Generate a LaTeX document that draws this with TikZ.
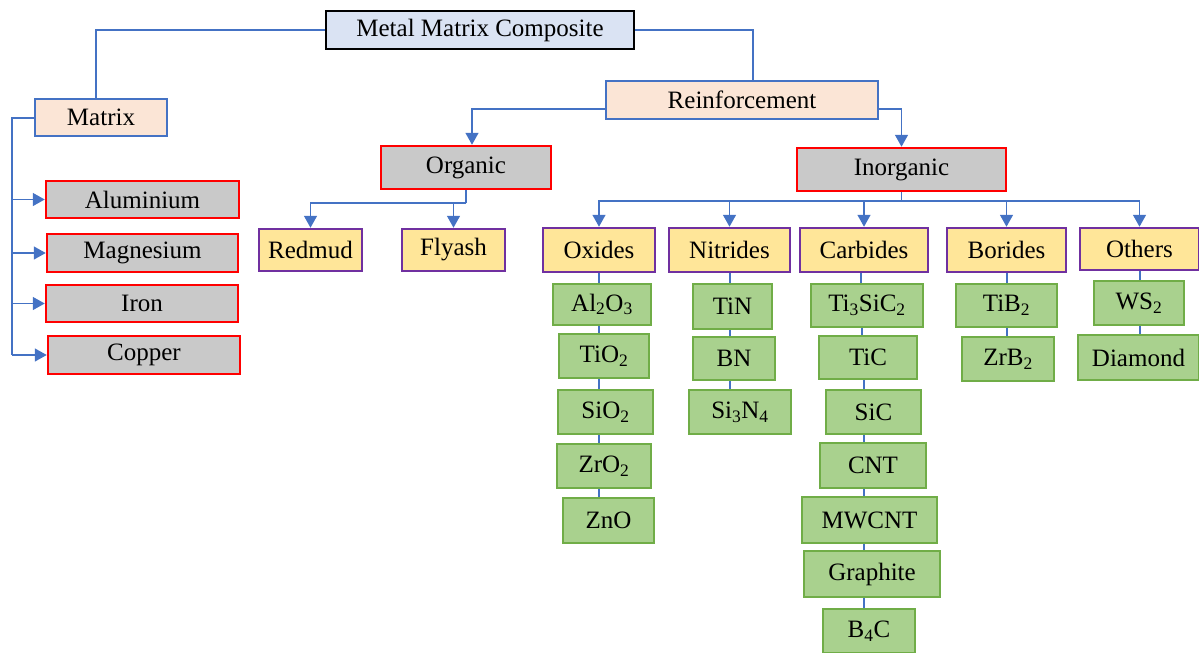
\documentclass[tikz,border=0pt]{standalone}
\usepackage{fontspec}
\setmainfont{Liberation Serif}
\usetikzlibrary{arrows.meta}
\definecolor{cblue}{HTML}{4472C4}
\definecolor{mmcfill}{HTML}{DAE3F3}
\definecolor{peach}{HTML}{FBE5D6}
\definecolor{grayfill}{HTML}{C9C9C9}
\definecolor{redline}{HTML}{FF0000}
\definecolor{yellowfill}{HTML}{FFE699}
\definecolor{purpleline}{HTML}{7030A0}
\definecolor{greenfill}{HTML}{A9D18E}
\definecolor{greenline}{HTML}{70AD47}
\tikzset{
  box/.style={draw, line width=2.5pt, inner sep=0pt, font=\rmfamily\fontsize{25}{29}\selectfont},
  topbox/.style={box, draw=black, fill=mmcfill},
  peachbox/.style={box, draw=cblue, fill=peach},
  graybox/.style={box, draw=redline, fill=grayfill},
  catbox/.style={box, draw=purpleline, fill=yellowfill},
  greenbox/.style={box, draw=greenline, fill=greenfill},
  conn/.style={draw=cblue, line width=2pt},
  thinconn/.style={draw=cblue, line width=1.5pt},
  arr/.style={-{Triangle[length=12pt,width=13pt]}},
}
\newcommand{\bx}[6]{\node[#1, minimum width=#4pt, minimum height=#5pt] (#2) at (#3) {#6};}
\begin{document}
\begin{tikzpicture}[x=1pt,y=-1pt]
\useasboundingbox (0,0) rectangle (1199,653);
% top level
\bx{topbox}{mmc}{480,30}{308}{38}{Metal Matrix Composite}
\bx{peachbox}{matrix}{101,117.5}{132}{37}{Matrix}
\bx{peachbox}{reinf}{742,100}{272}{38}{Reinforcement}
\bx{graybox}{organic}{466,167.5}{170}{43}{Organic}
\bx{graybox}{inorg}{901.5,169.5}{209}{43}{Inorganic}
% matrix
\bx{graybox}{alu}{142.5,199.5}{193}{37}{Aluminium}
\bx{graybox}{mag}{142.5,253}{191}{38}{Magnesium}
\bx{graybox}{iron}{142,303.5}{192}{37}{Iron}
\bx{graybox}{copper}{144,355}{192}{38}{Copper}
% organic
\bx{catbox}{redmud}{310.5,250}{103}{42}{Redmud}
\bx{catbox}{flyash}{453.5,250}{103}{42}{Flyash}
% inorganic categories
\bx{catbox}{oxides}{599,250}{112}{44}{Oxides}
\bx{catbox}{nitrides}{729.5,250}{121}{44}{Nitrides}
\bx{catbox}{carbides}{864,250}{128}{44}{Carbides}
\bx{catbox}{borides}{1006.5,250}{119}{44}{Borides}
\bx{catbox}{others}{1139.5,249}{119}{42}{Others}
% oxides
\bx{greenbox}{alo}{602,304.5}{98}{41}{Al\textsubscript{2}O\textsubscript{3}}
\bx{greenbox}{tio}{604,356}{90}{44}{TiO\textsubscript{2}}
\bx{greenbox}{sio}{605.5,412}{95}{44}{SiO\textsubscript{2}}
\bx{greenbox}{zro}{604,466}{94}{44}{ZrO\textsubscript{2}}
\bx{greenbox}{zno}{608.5,520.5}{91}{45}{ZnO}
% nitrides
\bx{greenbox}{tin}{732.5,306.5}{79}{45}{TiN}
\bx{greenbox}{bn}{734,358.5}{82}{43}{BN}
\bx{greenbox}{sin}{740,412}{102}{44}{Si\textsubscript{3}N\textsubscript{4}}
% carbides
\bx{greenbox}{tsc}{867,305.5}{112}{43}{Ti\textsubscript{3}SiC\textsubscript{2}}
\bx{greenbox}{tic}{868,357.5}{98}{43}{TiC}
\bx{greenbox}{sic}{873.5,412}{95}{44}{SiC}
\bx{greenbox}{cnt}{873,465.5}{106}{45}{CNT}
\bx{greenbox}{mwcnt}{869.5,520}{135}{46}{MWCNT}
\bx{greenbox}{graphite}{872,574}{136}{46}{Graphite}
\bx{greenbox}{bc}{869,631}{92}{44}{B\textsubscript{4}C}
% borides
\bx{greenbox}{tib}{1006.5,305.5}{101}{43}{TiB\textsubscript{2}}
\bx{greenbox}{zrb}{1008,359}{92}{44}{ZrB\textsubscript{2}}
% others
\bx{greenbox}{ws}{1139,303}{90}{44}{WS\textsubscript{2}}
\bx{greenbox}{diamond}{1138.5,357.5}{121}{45}{Diamond}

% connectors top
\draw[conn] (mmc.west) -| ([xshift=-5pt]matrix.north);
\draw[conn] (mmc.east) -| ([xshift=11pt]reinf.north);
% matrix trunk
\coordinate (mt) at (12,117.5);
\draw[conn] (matrix.west) -- (mt) -- (mt |- copper.west);
\draw[thinconn,arr] (mt |- alu.west) -- (alu.west);
\draw[thinconn,arr] (mt |- mag.west) -- (mag.west);
\draw[thinconn,arr] (mt |- iron.west) -- (iron.west);
\draw[thinconn,arr] (mt |- copper.west) -- (copper.west);
% reinforcement
\draw[thinconn,arr] ([yshift=-9pt]reinf.west) -| ([xshift=6pt]organic.north);
\draw[thinconn,arr] ([yshift=-9pt]reinf.east) -| (inorg.north);
% organic
\coordinate (ob) at (466,203);
\draw[thinconn] (organic.south) -- (ob);
\draw[thinconn,arr] (ob) -| (redmud.north);
\draw[thinconn,arr] (ob) -| (flyash.north);
% inorganic
\coordinate (ib) at (901.5,201);
\draw[thinconn] (inorg.south) -- (ib);
\draw[thinconn,arr] (ib) -| (oxides.north);
\draw[thinconn,arr] (ib) -| (nitrides.north);
\draw[thinconn,arr] (ib) -| (carbides.north);
\draw[thinconn,arr] (ib) -| (borides.north);
\draw[thinconn,arr] (ib) -| (others.north);
% chains
\draw[conn] (oxides.south) -- (oxides.south |- alo.north);
\draw[conn] (oxides.south |- alo.south) -- (oxides.south |- tio.north);
\draw[conn] (oxides.south |- tio.south) -- (oxides.south |- sio.north);
\draw[conn] (oxides.south |- sio.south) -- (oxides.south |- zro.north);
\draw[conn] (oxides.south |- zro.south) -- (oxides.south |- zno.north);
\draw[conn] (nitrides.south) -- (nitrides.south |- tin.north);
\draw[conn] (nitrides.south |- tin.south) -- (nitrides.south |- bn.north);
\draw[conn] (nitrides.south |- bn.south) -- (nitrides.south |- sin.north);
\draw[conn] ([xshift=-3pt]carbides.south) -- ([xshift=-3pt]carbides.south |- tsc.north);
\draw[conn] ([xshift=-2pt]carbides.south |- tsc.south) -- ([xshift=-2pt]carbides.south |- tic.north);
\draw[conn] (carbides.south |- tic.south) -- (carbides.south |- sic.north);
\draw[conn] (carbides.south |- sic.south) -- (carbides.south |- cnt.north);
\draw[conn] (carbides.south |- cnt.south) -- (carbides.south |- mwcnt.north);
\draw[conn] (carbides.south |- mwcnt.south) -- (carbides.south |- graphite.north);
\draw[conn] (carbides.south |- graphite.south) -- (carbides.south |- bc.north);
\draw[conn] (borides.south) -- (borides.south |- tib.north);
\draw[conn] (borides.south |- tib.south) -- (borides.south |- zrb.north);
\draw[conn] (others.south) -- (others.south |- ws.north);
\draw[conn] (others.south |- ws.south) -- (others.south |- diamond.north);
\end{tikzpicture}
\end{document}
